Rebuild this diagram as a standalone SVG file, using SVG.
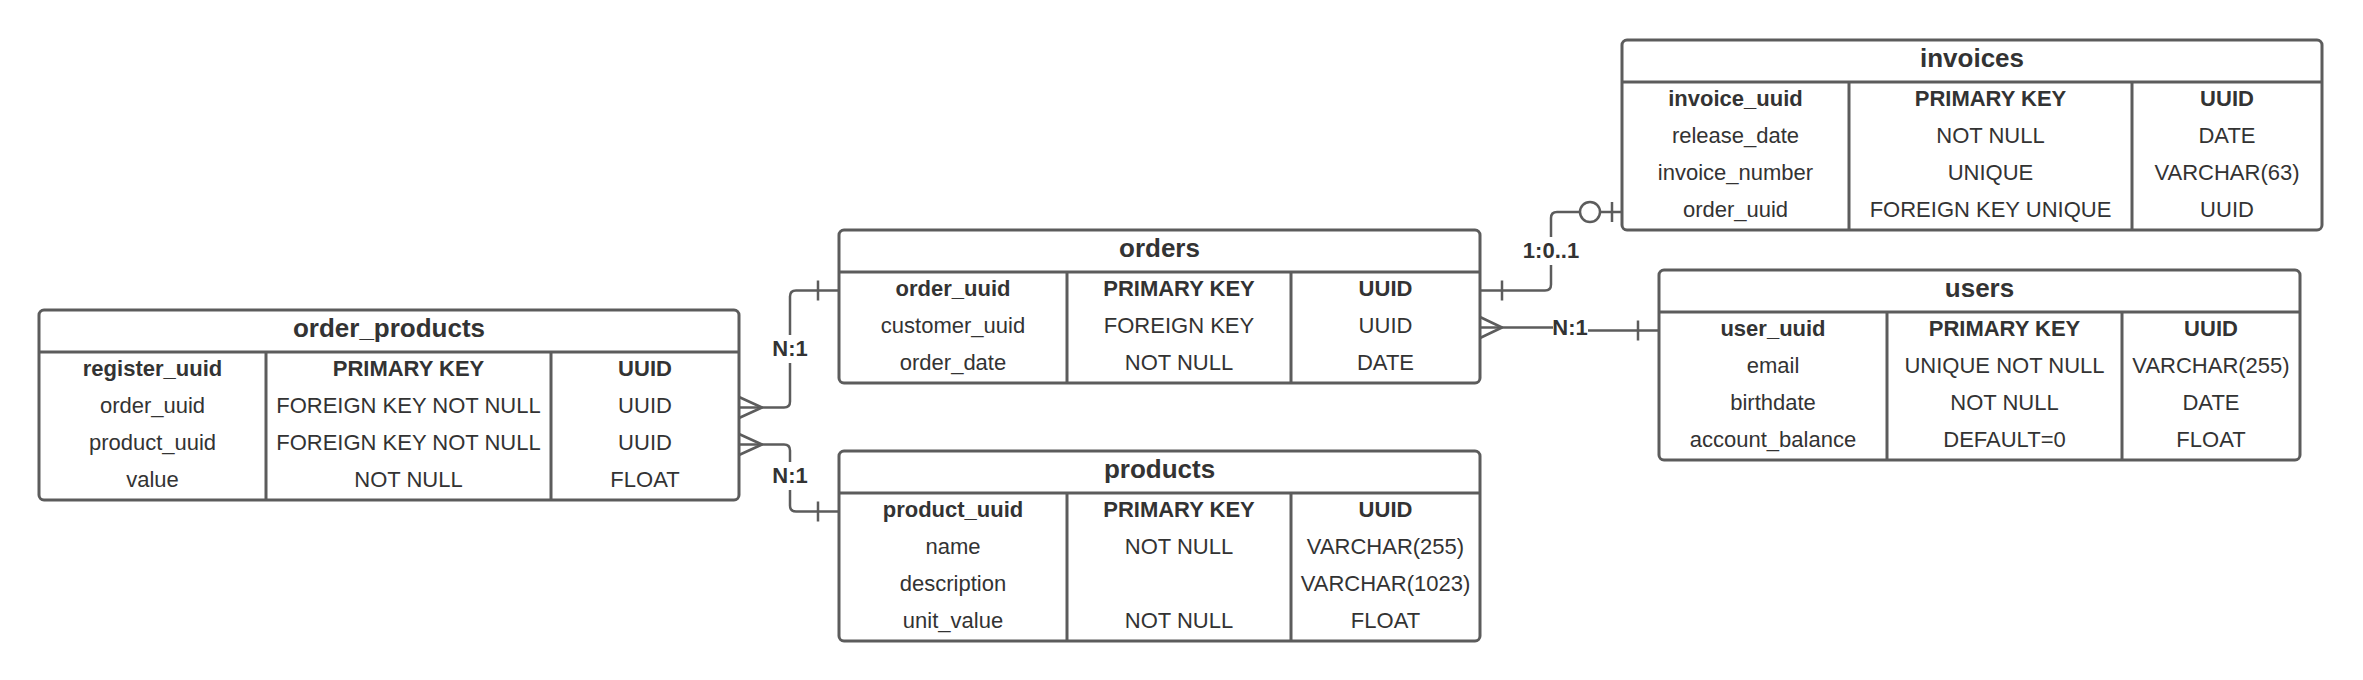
<svg xmlns="http://www.w3.org/2000/svg" width="2363" height="680" viewBox="0 0 2363 680">
<style>
.box{fill:#fff;stroke:#5c5c5c;stroke-width:3}
.ln{stroke:#5c5c5c;stroke-width:3;fill:none}
.cn{stroke:#5c5c5c;stroke-width:2.5;fill:none;stroke-linejoin:round}
text{font-family:"Liberation Sans",Arial,sans-serif;fill:#333;text-anchor:middle}
.t{font-size:26px;font-weight:bold}
.c{font-size:22px}
.b{font-size:22px;font-weight:bold}
.bg{fill:#fff;stroke:none}
</style>
<rect width="2363" height="680" fill="#fff"/>

<g id="order_products">
<rect class="box" x="39" y="310" width="700" height="190" rx="5"/>
<path class="ln" d="M39,352H739M266,352V500M551,352V500"/>
<text class="t" x="389" y="337">order_products</text>
<text class="b" x="152.5" y="375.5">register_uuid</text>
<text class="b" x="408.5" y="375.5">PRIMARY KEY</text>
<text class="b" x="645" y="375.5">UUID</text>
<text class="c" x="152.5" y="412.5">order_uuid</text>
<text class="c" x="408.5" y="412.5">FOREIGN KEY NOT NULL</text>
<text class="c" x="645" y="412.5">UUID</text>
<text class="c" x="152.5" y="449.5">product_uuid</text>
<text class="c" x="408.5" y="449.5">FOREIGN KEY NOT NULL</text>
<text class="c" x="645" y="449.5">UUID</text>
<text class="c" x="152.5" y="486.5">value</text>
<text class="c" x="408.5" y="486.5">NOT NULL</text>
<text class="c" x="645" y="486.5">FLOAT</text>
</g>

<g id="orders">
<rect class="box" x="839" y="230" width="641" height="153" rx="5"/>
<path class="ln" d="M839,272H1480M1067,272V383M1291,272V383"/>
<text class="t" x="1159.5" y="257">orders</text>
<text class="b" x="953" y="295.5">order_uuid</text>
<text class="b" x="1179" y="295.5">PRIMARY KEY</text>
<text class="b" x="1385.5" y="295.5">UUID</text>
<text class="c" x="953" y="332.5">customer_uuid</text>
<text class="c" x="1179" y="332.5">FOREIGN KEY</text>
<text class="c" x="1385.5" y="332.5">UUID</text>
<text class="c" x="953" y="369.5">order_date</text>
<text class="c" x="1179" y="369.5">NOT NULL</text>
<text class="c" x="1385.5" y="369.5">DATE</text>
</g>

<g id="products">
<rect class="box" x="839" y="451" width="641" height="190" rx="5"/>
<path class="ln" d="M839,493H1480M1067,493V641M1291,493V641"/>
<text class="t" x="1159.5" y="478">products</text>
<text class="b" x="953" y="516.5">product_uuid</text>
<text class="b" x="1179" y="516.5">PRIMARY KEY</text>
<text class="b" x="1385.5" y="516.5">UUID</text>
<text class="c" x="953" y="553.5">name</text>
<text class="c" x="1179" y="553.5">NOT NULL</text>
<text class="c" x="1385.5" y="553.5">VARCHAR(255)</text>
<text class="c" x="953" y="590.5">description</text>
<text class="c" x="1385.5" y="590.5">VARCHAR(1023)</text>
<text class="c" x="953" y="627.5">unit_value</text>
<text class="c" x="1179" y="627.5">NOT NULL</text>
<text class="c" x="1385.5" y="627.5">FLOAT</text>
</g>

<g id="invoices">
<rect class="box" x="1622" y="40" width="700" height="190" rx="5"/>
<path class="ln" d="M1622,82H2322M1849,82V230M2132,82V230"/>
<text class="t" x="1972" y="67">invoices</text>
<text class="b" x="1735.5" y="105.5">invoice_uuid</text>
<text class="b" x="1990.5" y="105.5">PRIMARY KEY</text>
<text class="b" x="2227" y="105.5">UUID</text>
<text class="c" x="1735.5" y="142.5">release_date</text>
<text class="c" x="1990.5" y="142.5">NOT NULL</text>
<text class="c" x="2227" y="142.5">DATE</text>
<text class="c" x="1735.5" y="179.5">invoice_number</text>
<text class="c" x="1990.5" y="179.5">UNIQUE</text>
<text class="c" x="2227" y="179.5">VARCHAR(63)</text>
<text class="c" x="1735.5" y="216.5">order_uuid</text>
<text class="c" x="1990.5" y="216.5">FOREIGN KEY UNIQUE</text>
<text class="c" x="2227" y="216.5">UUID</text>
</g>

<g id="users">
<rect class="box" x="1659" y="270" width="641" height="190" rx="5"/>
<path class="ln" d="M1659,312H2300M1887,312V460M2122,312V460"/>
<text class="t" x="1979.5" y="297">users</text>
<text class="b" x="1773" y="335.5">user_uuid</text>
<text class="b" x="2004.5" y="335.5">PRIMARY KEY</text>
<text class="b" x="2211" y="335.5">UUID</text>
<text class="c" x="1773" y="372.5">email</text>
<text class="c" x="2004.5" y="372.5">UNIQUE NOT NULL</text>
<text class="c" x="2211" y="372.5">VARCHAR(255)</text>
<text class="c" x="1773" y="409.5">birthdate</text>
<text class="c" x="2004.5" y="409.5">NOT NULL</text>
<text class="c" x="2211" y="409.5">DATE</text>
<text class="c" x="1773" y="446.5">account_balance</text>
<text class="c" x="2004.5" y="446.5">DEFAULT=0</text>
<text class="c" x="2211" y="446.5">FLOAT</text>
</g>

<g id="connectors">
<path class="cn" d="M739,407.5H784Q790,407.5 790,401.5V296.5Q790,290.5 796,290.5H839"/>
<path class="cn" d="M739,397L762,407.5L739,418M818,280.5V300.5"/>
<path class="cn" d="M739,444.5H784Q790,444.5 790,450.5V505.5Q790,511.5 796,511.5H839"/>
<path class="cn" d="M739,434L762,444.5L739,455M818,501.5V521.5"/>
<path class="cn" d="M1480,290.5H1545Q1551,290.5 1551,284.5V218Q1551,212 1557,212H1580M1600,212H1622"/>
<circle class="cn" cx="1590" cy="212" r="10"/>
<path class="cn" d="M1502,280.5V300.5M1612,202V222"/>
<path class="cn" d="M1480,327.5H1570V330.5H1659"/>
<path class="cn" d="M1480,317L1502,327.5L1480,338M1638,320.5V340.5"/>
<rect class="bg" x="772" y="335" width="36" height="28"/>
<text class="b" x="790" y="356">N:1</text>
<rect class="bg" x="772" y="462" width="36" height="28"/>
<text class="b" x="790" y="483">N:1</text>
<rect class="bg" x="1522" y="237" width="58" height="28"/>
<text class="b" x="1551" y="258">1:0..1</text>
<rect class="bg" x="1553" y="316" width="35" height="26"/>
<text class="b" x="1570" y="335">N:1</text>
</g>
</svg>
